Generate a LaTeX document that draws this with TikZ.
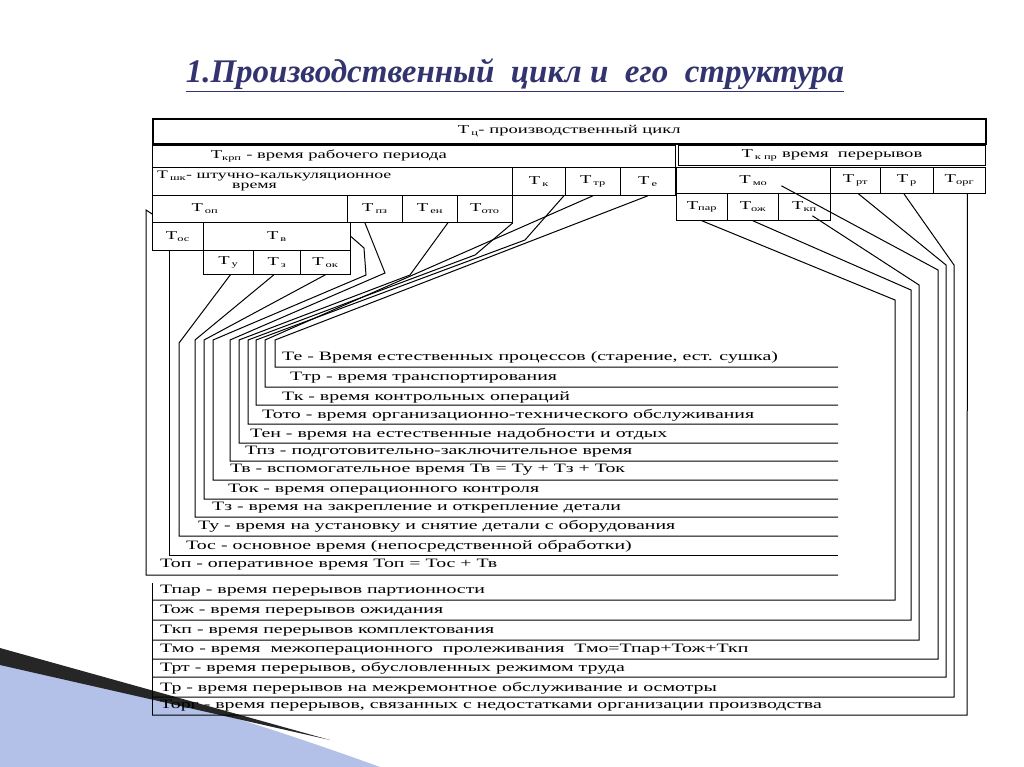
\documentclass[tikz,border=0pt]{standalone}
\usepackage{fontspec}
\setmainfont{Liberation Serif}
\newfontfamily\wf[FakeStretch=1.55]{Liberation Serif}
\newcommand\lo[1]{\textsubscript{#1}}
\begin{document}
\begin{tikzpicture}[x=1pt,y=-1pt,
  bx/.style={draw,line width=0.8pt,inner sep=0pt,font=\wf\fontsize{12}{12}\selectfont},
  lab/.style={anchor=west,inner sep=0pt,font=\wf\fontsize{12.8}{12}\selectfont},
  ln/.style={line width=0.8pt},
  ul/.style={line width=1pt}]
\useasboundingbox (0,0) rectangle (1024,767);
% decoration
\fill[cyan!40!blue!30] (0,660) -- (0,767) -- (380,767) .. controls (250,720) and (120,680) .. (0,660);
\fill[black!85] (0,648) -- (330,740) -- (0,665) -- cycle;
\node[font=\fontsize{33}{36}\selectfont\itshape\bfseries,text=blue!30!black!80] (title) at (515,75) {\underline{1.Производственный\ \ цикл и \ его \ структура}};
% boxes
\newcommand\bxn[6]{\node[bx,minimum width=#4-#2,minimum height=#5-#3,anchor=north west] (#1) at (#2,#3) {#6};}
\node[bx,line width=1.6pt,minimum width=833,minimum height=25,anchor=north west] (Tc) at (152,118) {Т\,\lo{ц}- производственный цикл\hspace*{0pt}};
\bxn{Tkrp}{152}{145}{675}{167}{Т\lo{крп} - время рабочего периода\hspace*{170pt}}
\node[bx,minimum width=307,minimum height=20,anchor=north west] (Tpr) at (678,145) {Т\,\lo{к пр} время \ перерывов};
\bxn{Tsk}{152}{167}{512}{195}{}
\node[anchor=north west,inner sep=2pt,font=\wf\fontsize{11.5}{10}\selectfont,align=left] at (155,169) {Т\,\lo{шк}- штучно-калькуляционное\\\hspace*{75pt}время};
\bxn{Tk}{512}{167}{565}{195}{Т\,\lo{к}}
\bxn{Ttr}{565}{167}{620}{195}{Т\,\lo{тр}}
\bxn{Te}{620}{167}{675}{195}{Т\,\lo{е}}
\bxn{Tmo}{676}{167}{830}{193}{Т\,\lo{мо}}
\bxn{Trt}{830}{167}{880}{193}{Т\,\lo{рт}}
\bxn{Tr}{880}{167}{933}{193}{Т\,\lo{р}}
\bxn{Torg}{933}{167}{985}{193}{Т\lo{орг}}
\bxn{Top}{152}{195}{347}{222}{Т\,\lo{оп}\hspace*{90pt}}
\bxn{Tpz}{347}{195}{402}{222}{Т\,\lo{пз}}
\bxn{Ten}{402}{195}{457}{222}{Т\,\lo{ен}}
\bxn{Toto}{457}{195}{512}{222}{Т\lo{ото}}
\bxn{Tpar}{676}{193}{727}{220}{Т\lo{пар}}
\bxn{Tozh}{727}{193}{778}{220}{Т\lo{ож}}
\bxn{Tkp}{778}{193}{830}{220}{Т\lo{кп}}
\bxn{Tos}{152}{222}{203}{250}{Т\lo{ос}}
\bxn{Tv}{203}{222}{350}{250}{Т\,\lo{в}}
\bxn{Tu}{203}{250}{253}{274}{Т\,\lo{у}}
\bxn{Tz}{253}{250}{300}{274}{Т\,\lo{з}}
\bxn{Tok}{300}{250}{350}{274}{Т\,\lo{ок}}
% labels
\node[lab] (Le) at (282,357) {Те - Время естественных процессов (старение, ест. сушка)};
\node[lab] (Ltr) at (290,378) {Ттр - время транспортирования};
\node[lab] (Lk) at (282,397) {Тк - время контрольных операций};
\node[lab] (Loto) at (262,415) {Тото - время организационно-технического обслуживания};
\node[lab] (Len) at (250,434) {Тен - время на естественные надобности и отдых};
\node[lab] (Lpz) at (245,452) {Тпз - подготовительно-заключительное время};
\node[lab] (Lv) at (230,470) {Тв - вспомогательное время Тв = Ту + Тз + Ток};
\node[lab] (Lok) at (228,490) {Ток - время операционного контроля};
\node[lab] (Lz) at (212,508) {Тз - время на закрепление и открепление детали};
\node[lab] (Lu) at (198,526) {Ту - время на установку и снятие детали с оборудования};
\node[lab] (Los) at (186,546) {Тос - основное время (непосредственной обработки)};
\node[lab] (Lop) at (160,565) {Топ - оперативное время Топ = Тос + Тв};
\node[lab] (Lpar) at (160,591) {Тпар - время перерывов партионности};
\node[lab] (Lozh) at (160,611) {Тож - время перерывов ожидания};
\node[lab] (Lkp) at (160,631) {Ткп - время перерывов комплектования};
\node[lab] (Lmo) at (160,650) {Тмо - время \ межоперационного \ пролеживания \ Тмо=Тпар+Тож+Ткп};
\node[lab] (Lrt) at (160,668) {Трт - время перерывов, обусловленных режимом труда};
\node[lab] (Lr) at (160,688) {Тр - время перерывов на межремонтное обслуживание и осмотры};
\node[lab] (Lorg) at (160,706) {Торг - время перерывов, связанных с недостатками организации производства};
% left connectors
\draw[ul] (Tk.south) ++(25,0) -- (525,240) -- (256,340) |- (838,405);
\draw[ul] (Ttr.south) -- (265,340) |- (838,387);
\draw[ul] (Te.south) -- (275,340) |- (838,367);
\draw[ul] (Toto.south) ++(28,0) -- (475,255) -- (248,340) |- (838,424);
\draw[ul] (Ten.south) ++(18,0) -- (410,275) -- (239,340) |- (838,443);
\draw[ul] (Tpz.south) ++(-10,0) -- (385,273) -- (230,340) |- (838,461);
\draw[ul] (Tv.east) -- (364,248) -- (366,275) -- (213,340) |- (838,480);
\draw[ul] (Tok.south) -- (204,340) |- (838,499);
\draw[ul] (Tz.south) ++(-3,0) -- (195,340) |- (838,517);
\draw[ul] (Tu.south) ++(2,0) -- (179,343) |- (838,536);
\draw[ul] (Tos.south) ++(-8,0) |- (838,555);
\draw[ul] (Top.west) ++(0,5) -- (146,210) |- (838,575);
% right connectors
\draw[ul] (Tpar.south) -- (895,300) |- (152,600);
\draw[ul] (Tozh.south) -- (911,290) |- (152,620);
\draw[ul] (Tkp.south) ++(8,-5) -- (919,285) |- (152,640);
\draw[ul] (Tmo.south) ++(28,-8) -- (938,270) |- (152,659);
\draw[ul] (Trt.south) ++(3,0) -- (946,265) |- (152,677);
\draw[ul] (Tr.south) ++(-3,0) -- (954,265) |- (152,697);
\draw[ul] (Torg.south) ++(8,0) -- (967,715) -- (152,715);
\draw[ln] (152,583) -- (152,715);
\end{tikzpicture}
\end{document}
